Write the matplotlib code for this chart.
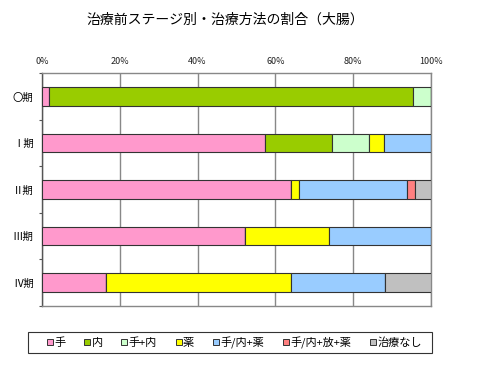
import matplotlib
matplotlib.use("Agg")
import matplotlib.pyplot as plt
from matplotlib.lines import Line2D
from matplotlib.patches import Rectangle
import numpy as np

plt.rcParams['font.family'] = ['Noto Sans CJK JP', 'DejaVu Sans']

title = "治療前ステージ別・治療方法の割合（大腸）"
categories = ["〇期", "Ⅰ期", "Ⅱ期", "Ⅲ期", "Ⅳ期"]
series_names = ["手", "内", "手+内", "薬", "手/内+薬", "手/内+放+薬", "治療なし"]
colors = ["#FF99CC", "#99CC00", "#CCFFCC", "#FFFF00", "#99CCFF", "#FF8080", "#C0C0C0"]

# percentage per category for each series
s_shu      = [1.7, 57.2, 63.9, 52.1, 16.5]
s_nai      = [93.6, 17.4, 0.0, 0.0, 0.0]
s_shu_nai  = [4.7, 9.5, 0.0, 0.0, 0.0]
s_yaku     = [0.0, 3.8, 2.1, 21.7, 47.6]
s_sn_yaku  = [0.0, 12.1, 27.9, 26.2, 24.1]
s_snh_yaku = [0.0, 0.0, 2.1, 0.0, 0.0]
s_none     = [0.0, 0.0, 4.0, 0.0, 11.8]
series = [s_shu, s_nai, s_shu_nai, s_yaku, s_sn_yaku, s_snh_yaku, s_none]
xticks = [0, 20, 40, 60, 80, 100]
xticklabels = ["0%", "20%", "40%", "60%", "80%", "100%"]

fig = plt.figure(figsize=(4.8, 3.72), dpi=100)
ax = fig.add_axes([42/480, 1-306/372, (431-42)/480, (306-73.3)/372])

y = np.arange(len(categories))
left = np.zeros(len(categories))
for vals, c, name in zip(series, colors, series_names):
    v = np.array(vals)
    ax.barh(y, v, left=left, height=0.4, color=c, edgecolor="#333333",
            linewidth=0.8, label=name, zorder=3)
    left += v

ax.set_xlim(0, 100)
ax.set_ylim(len(categories)-0.5, -0.5)
ax.xaxis.tick_top()
ax.set_xticks(xticks)
ax.set_xticklabels(xticklabels, fontsize=6.5, color="#222222")
ax.tick_params(axis='x', length=0, pad=5)
ax.set_yticks(y)
ax.set_yticklabels(categories, fontsize=7.5)
ax.tick_params(axis='y', length=0, pad=6)
ax.set_yticks(np.arange(len(categories)+1)-0.5, minor=True)
ax.tick_params(axis='y', which='minor', length=2, color="#555555", width=0.8)
ax.grid(axis='x', color="#888888", linewidth=1.0, zorder=0)
for s in ['top', 'bottom', 'right']:
    ax.spines[s].set_color("#888888")
    ax.spines[s].set_linewidth(1.0)
ax.spines['left'].set_color("#555555")
ax.spines['left'].set_linewidth(1.0)

fig.text(225/480, 1-20/372, title, ha='center', va='center', fontsize=10)

handles = [Line2D([0], [0], marker='s', linestyle='none', markersize=4,
                  markerfacecolor=c, markeredgecolor="#333333", markeredgewidth=0.7)
           for c in colors]
leg = fig.legend(handles, series_names, loc='center', ncol=7,
                 bbox_to_anchor=(234/480, 1-342.5/372),
                 fontsize=8, frameon=False,
                 handlelength=0.6, handletextpad=0.1, columnspacing=1.65,
                 borderpad=0.3)
fig.patches.append(Rectangle((28/480, 1-353/372), (432-28)/480, 21/372,
                             transform=fig.transFigure, fill=False,
                             edgecolor="#333333", linewidth=0.8))

fig.savefig("out.png", dpi=100)
